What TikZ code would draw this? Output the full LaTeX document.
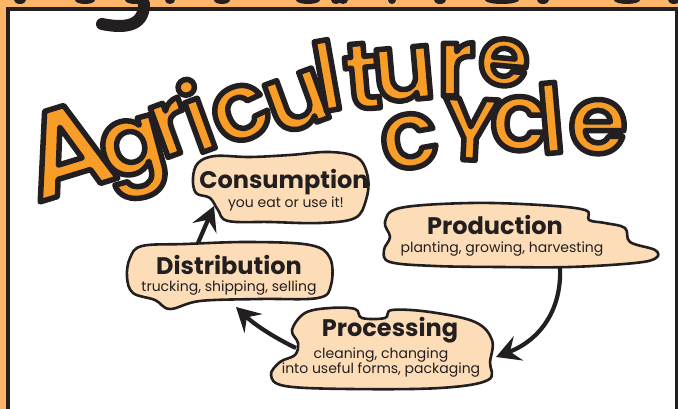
\documentclass[tikz,border=0pt]{standalone}
\usepackage{fontspec}
\setmainfont{Poppins}
\newfontfamily\titlefont{Poppins SemiBold}
\usetikzlibrary{arrows.meta}

\definecolor{borderorange}{RGB}{253,181,106}
\definecolor{titleorange}{RGB}{247,157,40}
\definecolor{blobfill}{RGB}{253,221,183}
\definecolor{inkblack}{RGB}{35,31,32}

% orange letter with a black rim (fill, then stroke)
\newcommand{\rimmed}[1]{\special{pdf:literal direct 2 Tr 5.5 w 1 j 0.137 0.122 0.125 RG}#1\special{pdf:literal direct 0 Tr}}

\tikzset{
  blob/.style={draw=inkblack, fill=blobfill, line width=2.6pt},
  heading/.style={font=\bfseries\fontsize{24}{24}\selectfont, text=inkblack, inner sep=0pt},
  subtext/.style={font=\fontsize{14}{15}\selectfont, text=inkblack, inner sep=0pt, align=center},
  letter/.style={font=\titlefont\fontsize{95}{95}\selectfont, text=titleorange, anchor=base, inner sep=0pt},
  cyclearrow/.style={draw=inkblack, line width=4.2pt, -{Stealth[length=24pt,width=26pt,inset=9pt]}},
}

\begin{document}
\begin{tikzpicture}[x=1pt,y=-1pt]
  \useasboundingbox (0,0) rectangle (678,409);
  % frame
  \fill[borderorange] (0,0) rectangle (678,409);
  \fill[white] (7.5,9.5) rectangle (676.5,420);
  \draw[inkblack, line width=4pt] (7.5,9.5) rectangle (676.5,420);
  \begin{scope}
    \clip (0,0) rectangle (678,5);
    \foreach \bx/\bw in {20/6,85/10,135/10,170/5,222/8,308/12,336/5,343/5,392/4,440/6,502/17,543/6,627/13,674/6}
      \fill[inkblack] (\bx,0) ellipse ({\bw} and 4);
  \end{scope}
  \draw[inkblack, line width=12pt, line cap=round] (144,4) .. controls (144,28) and (122,28) .. (102,24);

  % title
  \node[letter, rotate=17, font=\titlefont\fontsize{122}{122}\selectfont] (tA) at (79,190) {\rimmed{A}};
  \node[letter, rotate=15] (tg) at (139,172) {\rimmed{g}};
  \node[letter, rotate=20] (tr) at (180,153) {\rimmed{r}};
  \node[letter, rotate=20] (ti) at (209,150) {\rimmed{i}};
  \node[letter, rotate=25] (tc) at (252,137) {\rimmed{c}};
  \node[letter, rotate=20] (tu) at (306,126) {\rimmed{u}};
  \node[letter, rotate=10] (tl) at (333,110) {\rimmed{l}};
  \node[letter, rotate=5] (tt) at (365,109) {\rimmed{t}};
  \node[letter, rotate=5] (tu2) at (406,100) {\rimmed{u}};
  \node[letter] (tr2) at (456,96) {\rimmed{r}};
  \node[letter, rotate=-5, font=\titlefont\fontsize{82}{82}\selectfont] (te) at (502,85) {\rimmed{e}};

  \node[letter, rotate=10] (cc) at (414,167) {\rimmed{c}};
  \node[letter, rotate=-3, font=\titlefont\fontsize{88}{88}\selectfont] (cy) at (469,160) {\rimmed{Y}};
  \node[letter] (cc2) at (519,150) {\rimmed{c}};
  \node[letter, rotate=5] (cl) at (554,153) {\rimmed{l}};
  \node[letter] (ce) at (598,153) {\rimmed{e}};

  % blobs
  \draw[blob] plot[smooth cycle, tension=0.6] coordinates {(193,178) (198,163) (215,156) (250,157) (290,155) (330,152) (358,158) (368,178) (366,200) (355,218) (320,223) (270,222) (228,221) (218,210) (210,198) (196,193)};
  \draw[blob] plot[smooth cycle, tension=0.6] coordinates {(130,258) (142,246) (185,244) (250,242) (310,245) (330,258) (331,285) (318,298) (260,299) (200,301) (170,309) (155,300) (133,293) (127,277)};
  \draw[blob] plot[smooth cycle, tension=0.6] coordinates {(385,222) (400,208) (470,203) (540,205) (585,210) (589,220) (605,223) (625,228) (630,242) (655,250) (656,258) (635,263) (570,267) (500,267) (435,266) (390,262) (384,250) (390,237)};
  \draw[blob] plot[smooth cycle, tension=0.6] coordinates {(292,330) (305,313) (330,308) (355,309) (362,318) (385,318) (392,310) (430,312) (475,322) (492,340) (490,362) (488,380) (440,388) (350,389) (285,386) (271,375) (280,362) (295,355) (298,343)};

  % texts
  \node[heading] (cons) at (284,182) {Consumption};
  \node[subtext] (consub) at (286,204) {you eat or use it!};
  \node[heading] (dist) at (229,265) {Distribution};
  \node[subtext] (distsub) at (229,288) {trucking, shipping, selling};
  \node[heading] (prod) at (495,225) {Production};
  \node[subtext] (prodsub) at (502,249) {planting, growing, harvesting};
  \node[heading] (proc) at (390,330) {Processing};
  \node[subtext] (procsub) at (381,363) {cleaning, changing\\into useful forms, packaging};

  % arrows
  \coordinate (distout) at (198,243);
  \coordinate (consin) at (214,206);
  \draw[cyclearrow] (distout) -- (consin);
  \coordinate (procout) at (296,348);
  \coordinate (distin) at (236,307);
  \draw[cyclearrow] (procout) .. controls (275,338) and (255,325) .. (distin);
  \coordinate (prodout) at (560,267);
  \coordinate (procin) at (496,357);
  \draw[cyclearrow] (prodout) .. controls (562,310) and (540,340) .. (procin);
\end{tikzpicture}
\end{document}
